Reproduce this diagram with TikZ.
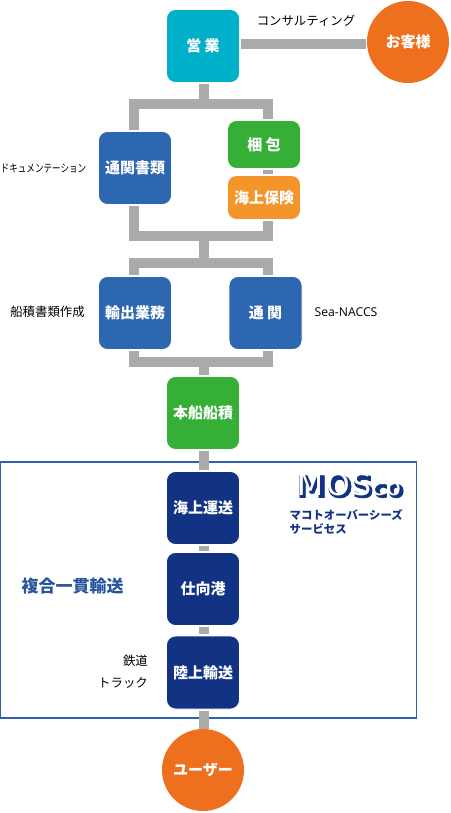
\documentclass[tikz,border=0pt]{standalone}
\usepackage{fontspec}
\setmainfont{Noto Sans CJK JP}
\newfontfamily\latinF{Open Sans}
\newfontfamily\logoF[FakeBold=2.5]{DejaVu Sans Bold}
\newfontfamily\logoH[LetterSpace=9]{DejaVu Sans}
\definecolor{lnkG}{HTML}{A9ABAA}
\definecolor{cyanG}{HTML}{00AFC8}
\definecolor{orngG}{HTML}{EE6F1E}
\definecolor{leafG}{HTML}{36AF37}
\definecolor{amberG}{HTML}{F3952B}
\definecolor{blueG}{HTML}{2D66B1}
\definecolor{navyG}{HTML}{123383}
\definecolor{frameG}{HTML}{2F62AA}
\begin{document}
\begin{tikzpicture}[
    x=1pt,y=-1pt,
    flowBk/.style={rectangle,rounded corners=9pt,draw=white,line width=0.8pt,minimum width=73pt,minimum height=73pt,inner sep=0pt,text=white,font=\fontsize{15}{17}\selectfont\bfseries},
    flowEnd/.style={circle,fill=orngG,minimum size=82pt,inner sep=0pt,text=white,font=\fontsize{15}{17}\selectfont\bfseries},
    flowLnk/.style={draw=lnkG,line width=10pt,line join=miter},
    noteTx/.style={inner sep=0pt,font=\fontsize{12.4}{14}\selectfont},
    mosTx/.style={inner sep=0pt,text=navyG,font=\fontsize{11.4}{14}\selectfont\bfseries},
]
\useasboundingbox (0,0) rectangle (450,813);
\node[draw=frameG,line width=1.3pt,rectangle,minimum width=416pt,minimum height=256pt,inner sep=0pt] (MFrame) at (208.7,590) {};
\node[flowBk,fill=cyanG] (EIG) at (203,46) {営 業};
\node[flowEnd] (CUS) at (408,42) {お客様};
\node[flowBk,fill=blueG] (DOC) at (135,168) {通関書類};
\node[flowBk,fill=leafG,minimum height=48pt] (KON) at (264,144.5) {梱 包};
\node[flowBk,fill=amberG,minimum height=44pt] (INS) at (264,197.5) {海上保険};
\node[flowBk,fill=blueG] (EXP) at (135,313) {輸出業務};
\node[flowBk,fill=blueG] (CLR) at (265.5,313) {通 関};
\node[flowBk,fill=leafG] (SHP) at (203,413) {本船船積};
\node[flowBk,fill=navyG] (SEA) at (203,508) {海上運送};
\node[flowBk,fill=navyG] (POR) at (203,589) {仕向港};
\node[flowBk,fill=navyG] (LND) at (203,672.5) {陸上輸送};
\node[flowEnd] (USR) at (203,770) {ユーザー};
% bus lines
\coordinate (busA) at (204,104);
\coordinate (busAL) at (134,104);
\coordinate (busAR) at (268,104);
\coordinate (busB) at (204,236);
\coordinate (busBL) at (134,236);
\coordinate (busBR) at (268,236);
\coordinate (busC) at (204,263);
\coordinate (busCL) at (134,263);
\coordinate (busCR) at (268,263);
\coordinate (busD) at (204,362);
\coordinate (busDL) at (134,362);
\coordinate (busDR) at (268,362);
\coordinate (talkL) at (EIG.east |- 0,44);
\coordinate (talkR) at (CUS.west |- 0,44);
\draw[flowLnk,shorten <=1pt,shorten >=1pt] (talkL) -- (talkR);
\draw[flowLnk,shorten <=1.5pt] (busA |- EIG.south) -- (busA);
\draw[flowLnk,shorten <=1.5pt,shorten >=1.5pt] (busAL |- DOC.north) -- (busAL) -- (busAR) -- (busAR |- KON.north);
\draw[flowLnk,shorten <=1pt,shorten >=1pt] (busAR |- KON.south) -- (busAR |- INS.north);
\draw[flowLnk,shorten <=1.5pt,shorten >=1.5pt] (busBL |- DOC.south) -- (busBL) -- (busBR) -- (busBR |- INS.south);
\draw[flowLnk] (busB) -- (busC);
\draw[flowLnk,shorten <=1.5pt,shorten >=1.5pt] (busCL |- EXP.north) -- (busCL) -- (busCR) -- (busCR |- CLR.north);
\draw[flowLnk,shorten <=1.5pt,shorten >=1.5pt] (busDL |- EXP.south) -- (busDL) -- (busDR) -- (busDR |- CLR.south);
\draw[flowLnk,shorten >=1.5pt] (busD) -- (busD |- SHP.north);
\draw[flowLnk,shorten <=1.5pt,shorten >=1.5pt] (busD |- SHP.south) -- (busD |- SEA.north);
\draw[flowLnk,shorten <=1.5pt,shorten >=1.5pt] (busD |- SEA.south) -- (busD |- POR.north);
\draw[flowLnk,shorten <=1.5pt,shorten >=1.5pt] (busD |- POR.south) -- (busD |- LND.north);
\draw[flowLnk,shorten <=1.5pt] (busD |- LND.south) -- (busD |- USR.north);
% side notes
\node[noteTx] (NCon) at (306,21) {コンサルティング};
\node[noteTx,font=\fontsize{11}{13}\selectfont,xscale=0.78] (NDoc) at (43.5,168) {ドキュメンテーション};
\node[noteTx] (NFun) at (47.5,312) {船積書類作成};
\node[noteTx,font=\fontsize{12.2}{14}\selectfont\latinF] (NSea) at (346,312) {Sea-NACCS};
\node[noteTx,anchor=east] (NRai) at (148,661) {鉄道};
\node[noteTx,anchor=east] (NTrk) at (148,683) {トラック};
\node[inner sep=0pt,text=frameG!70!navyG,font=\fontsize{17}{20}\selectfont\bfseries] (NMul) at (72.5,586) {複合一貫輸送};
\node[mosTx,anchor=west] (NMa) at (289.5,514.5) {マコトオーバーシーズ};
\node[mosTx,anchor=west] (NMb) at (289.5,528.5) {サービセス};
% logo with shadow
\node[inner sep=0pt,anchor=base west,text=navyG,font=\fontsize{30}{30}\selectfont\logoF] (LogoS) at (297,497.5) {MOS\fontsize{23.5}{24}\selectfont co};
\node[inner sep=0pt,anchor=base west,text=white,font=\fontsize{30}{30}\selectfont\logoH] (LogoT) at (297.5,495.5) {MOS\fontsize{23.5}{24}\selectfont co};
\end{tikzpicture}
\end{document}
